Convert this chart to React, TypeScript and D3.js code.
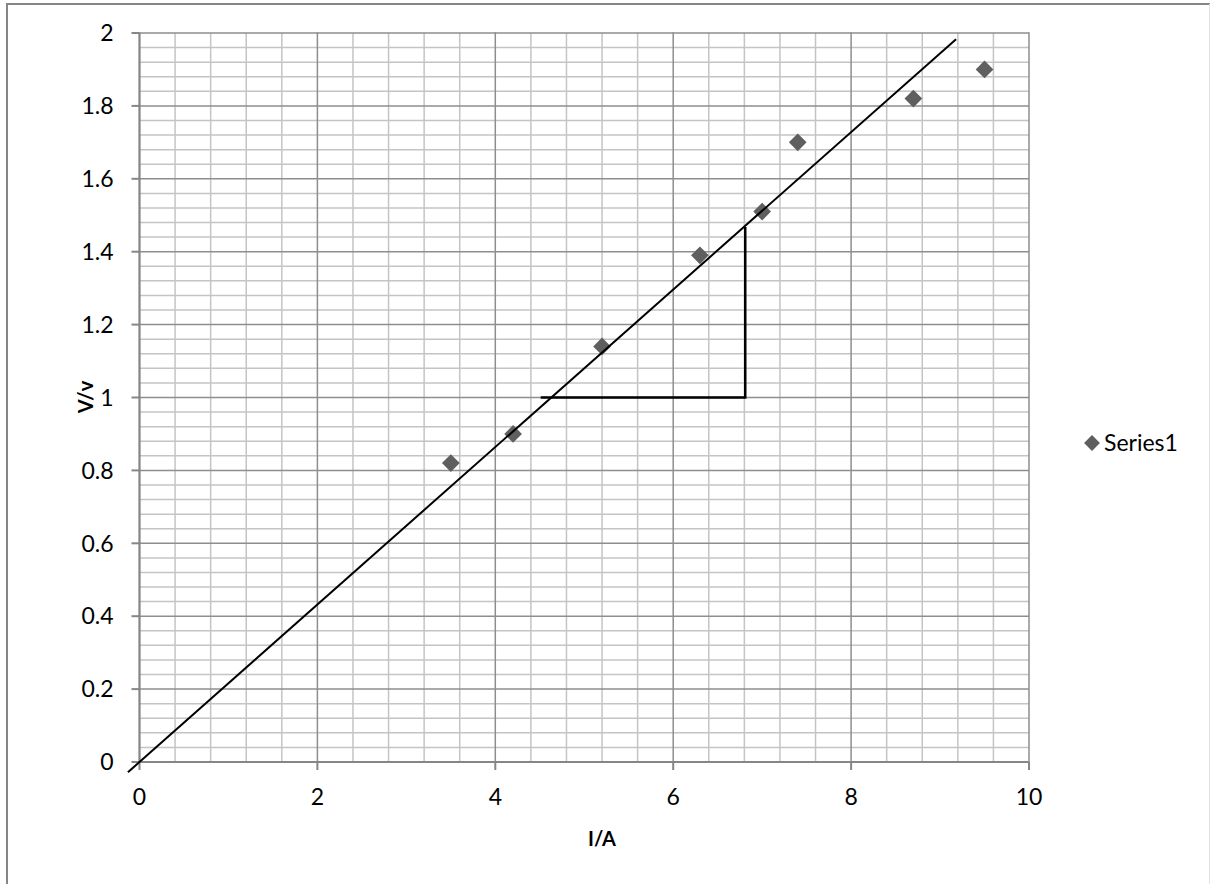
import React from 'react';
import * as d3 from 'd3';

// measured points (I in amps, V in volts)
const currentA = [3.5, 4.2, 5.2, 6.3, 7.0, 7.4, 8.7, 9.5];
const voltageV = [0.82, 0.9, 1.14, 1.39, 1.51, 1.7, 1.82, 1.9];

// hand-drawn best fit line and gradient triangle
const fitX = [-0.13, 9.18];
const fitY = [-0.028, 1.983];
const triX = [4.51, 6.81, 6.81];
const triY = [1.0, 1.0, 1.468];

const xTicks = [0, 2, 4, 6, 8, 10];
const yTicks = [0, 0.2, 0.4, 0.6, 0.8, 1, 1.2, 1.4, 1.6, 1.8, 2];
const seriesName = 'Series1';
const xTitle = 'I/A';
const yTitle = 'V/v';

const width = 1210;
const height = 884;
const marginLeft = 139.5;
const marginRight = 181;
const marginTop = 33;
const plotBottom = 762;
const font = 'Lato, "Open Sans", sans-serif';

export default function App() {
  const x = d3.scaleLinear().domain([0, 10]).range([marginLeft, width - marginRight]);
  const y = d3.scaleLinear().domain([0, 2]).range([plotBottom, marginTop]);

  // minor grid every 0.4 on x and 0.04 on y, skipping the major lines
  const minorX = d3.range(0, 10.001, 0.4).filter((v) => Math.abs(v / 2 - Math.round(v / 2)) > 1e-6);
  const minorY = d3.range(0, 2.001, 0.04).filter((v) => Math.abs(v / 0.2 - Math.round(v / 0.2)) > 1e-6);

  const path = d3
    .line<[number, number]>()
    .x((d) => x(d[0]))
    .y((d) => y(d[1]));
  const fitPath = path(fitX.map((v, i) => [v, fitY[i]]));
  const triPath = path(triX.map((v, i) => [v, triY[i]]));

  const diamond = d3.symbol(d3.symbolDiamond2, 200)();

  return (
    <svg
      width={width}
      height={height}
      style={{ position: 'absolute', left: 0, top: 0, background: '#fff' }}
      fontFamily={font}
    >
      <rect x={0} y={0} width={width} height={height} fill="#fff" />
      <rect x={7} y={4} width={1215} height={920} fill="none" stroke="#868686" strokeWidth={2} />
      <line x1={1209.5} x2={1209.5} y1={4} y2={height} stroke="#e2e2e2" strokeWidth={1} />

      {/* minor grid */}
      <g stroke="#c4c4c4" strokeWidth={1.5}>
        {minorX.map((v) => (
          <line key={'mx' + v} x1={x(v)} x2={x(v)} y1={y(0)} y2={y(2)} />
        ))}
        {minorY.map((v) => (
          <line key={'my' + v} x1={x(0)} x2={x(10)} y1={y(v)} y2={y(v)} />
        ))}
      </g>
      {/* major grid */}
      <g stroke="#8e8e8e" strokeWidth={1.5}>
        {xTicks.map((v) => (
          <line key={'gx' + v} x1={x(v)} x2={x(v)} y1={y(0)} y2={y(2) - 0.75} />
        ))}
        {yTicks.map((v) => (
          <line key={'gy' + v} x1={x(0)} x2={x(10)} y1={y(v)} y2={y(v)} />
        ))}
      </g>

      {/* axes */}
      <g stroke="#868686" strokeWidth={2}>
        <line x1={x(0)} x2={x(0)} y1={y(0)} y2={y(2)} />
        <line x1={x(0)} x2={x(10)} y1={y(0)} y2={y(0)} />
        {yTicks.map((v) => (
          <line key={'ty' + v} x1={x(0) - 8} x2={x(0)} y1={y(v)} y2={y(v)} />
        ))}
        {xTicks.map((v) => (
          <line key={'tx' + v} x1={x(v)} x2={x(v)} y1={y(0)} y2={y(0) + 8} />
        ))}
      </g>

      <g fontSize={23} fill="#000">
        {yTicks.map((v) => (
          <text key={'ly' + v} x={x(0) - 26} y={y(v)} dy="0.36em" textAnchor="end">
            {String(v)}
          </text>
        ))}
        {xTicks.map((v) => (
          <text key={'lx' + v} x={x(v)} y={y(0) + 43} textAnchor="middle">
            {String(v)}
          </text>
        ))}
      </g>

      <text x={602} y={846} fontSize={20} fontWeight="bold" textAnchor="middle">
        {xTitle}
      </text>
      <text
        transform={`translate(86,397) rotate(-90)`}
        fontSize={20}
        fontWeight="bold"
        textAnchor="middle"
        dy="0.36em"
      >
        {yTitle}
      </text>

      {/* data */}
      <g fill="#5f5f5f">
        {currentA.map((v, i) => (
          <path key={'p' + i} d={diamond!} transform={`translate(${x(v)},${y(voltageV[i])})`} />
        ))}
      </g>

      <path d={fitPath!} fill="none" stroke="#000" strokeWidth={2} />
      <path d={triPath!} fill="none" stroke="#000" strokeWidth={2.5} />

      {/* legend */}
      <path d={d3.symbol(d3.symbolDiamond2, 160)()!} transform="translate(1092,443)" fill="#5f5f5f" />
      <text x={1104} y={443} dy="0.36em" fontSize={23}>
        {seriesName}
      </text>
    </svg>
  );
}
